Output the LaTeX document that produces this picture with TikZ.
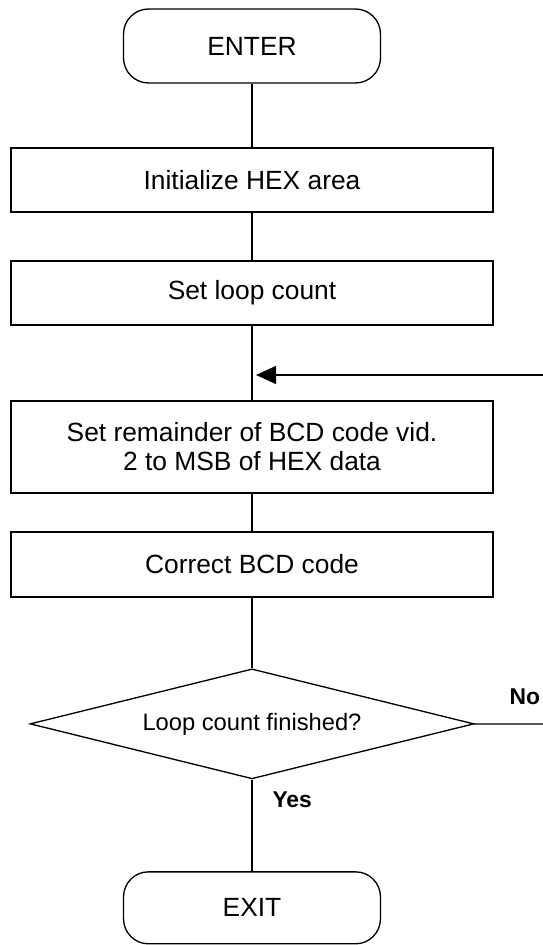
\documentclass[tikz,border=0pt]{standalone}
\usepackage{fontspec}
\setmainfont{Liberation Sans}
\usetikzlibrary{arrows.meta, positioning, shapes.geometric}

\begin{document}
\begin{tikzpicture}[x=0.02cm, y=-0.02cm, on grid, >={Triangle[length=0.4cm,width=0.36cm]},
        line width=0.75pt, font=\fontsize{15}{16.5}\selectfont,
        terminal/.style={draw, rectangle, rounded corners=0.5cm, minimum width=5.14cm, minimum height=1.48cm},
        process/.style={draw, rectangle, minimum width=9.64cm, minimum height=1.28cm, align=center},
        decision/.style={draw, diamond, aspect=4, minimum width=8.88cm, minimum height=2.2cm, inner sep=0pt,
          font=\fontsize{13.5}{16}\selectfont},
        answer/.style={font=\fontsize{13}{15}\selectfont\bfseries}]

      \useasboundingbox (0,0) rectangle (543,945);

      \node[terminal] (enter) at (252,46) {ENTER};
      \node[process] (init) [below=2.68cm of enter] {Initialize HEX area};
      \node[process] (loopcnt) [below=2.26cm of init] {Set loop count};
      \node[process, minimum height=1.84cm] (bcd) [below=3.08cm of loopcnt] {Set remainder of BCD code vid.\\2 to MSB of HEX data};
      \node[process, minimum height=1.3cm] (correct) [below=2.35cm of bcd] {Correct BCD code};
      \node[decision] (finished) [below=3.19cm of correct] {Loop count finished?};
      \node[terminal, minimum height=1.44cm] (exit) [below=3.68cm of finished] {EXIT};

      % loop back comes in from the right edge
      \coordinate (join) at (252,375);
      \coordinate (back) at (543,375);
      \coordinate (noend) at (543,724);
      \node[answer, anchor=west] (no) at (503,697) {No};

      \draw (enter) -- (init);
      \draw (init) -- (loopcnt);
      \draw (loopcnt) -- (bcd);
      \draw (bcd) -- (correct);
      \draw (correct) -- (finished);
      \draw (finished) -- node[answer, pos=0.22, right=0.28cm] {Yes} (exit);
      \draw (finished) -- (noend);
      \draw[->, shorten >=2.3pt] (back) -- (join);
    \end{tikzpicture}
\end{document}
